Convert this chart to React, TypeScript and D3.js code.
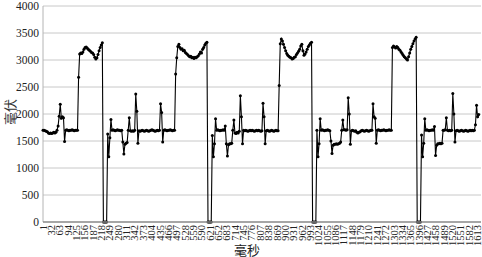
import React from "react";
import * as d3 from "d3";

// x tick labels (ms), y ticks (mV)
const xTickLabels = [
  1, 32, 63, 94, 125, 156, 187, 218, 249, 280, 311, 342, 373, 404, 435, 466, 497, 528, 559, 590,
  621, 652, 683, 714, 745, 776, 807, 838, 869, 900, 931, 962, 993, 1024, 1055, 1086, 1117, 1148,
  1179, 1210, 1241, 1272, 1303, 1334, 1365, 1396, 1427, 1458, 1489, 1520, 1551, 1582, 1613,
];
const yTicks = [0, 500, 1000, 1500, 2000, 2500, 3000, 3500, 4000];

// readings, one every SAMPLE_STEP ms, starting at ms 1
const SAMPLE_STEP = 4;
const TOTAL_MS = 1620;

const cycle1 = [
  1700, 1700, 1690, 1680, 1670, 1650, 1640, 1650, 1640, 1650, 1660, 1650, 1660, 1700,
  1780, 1960, 2180, 1920, 1950, 1930, 1490,
  1700, 1710, 1700, 1690, 1700, 1700, 1710, 1700, 1690, 1700, 1700, 1700,
  2680, 3110, 3130, 3120, 3150, 3200, 3230, 3240, 3220, 3200, 3180, 3160, 3140, 3130, 3100,
  3050, 3020, 3040, 3100, 3170, 3230, 3280, 3320,
  0, 0, 0, 0,
];
const cycle2 = [
  1630, 1210, 1560, 1900,
  1700, 1710, 1700, 1690, 1700, 1710, 1700, 1700, 1690, 1700,
  1480, 1260, 1440, 1460, 1470,
  1700, 1930,
  1690, 1680, 1690, 1680, 1700,
  2370, 2050, 1460,
  1690, 1680, 1690, 1700, 1690, 1680, 1690, 1700, 1690, 1680, 1690, 1700, 1710, 1700, 1690,
  1680, 1690, 1700, 1690, 1700,
  2190, 2030, 1480,
  1700, 1710, 1700, 1690, 1700, 1700, 1710, 1700, 1690, 1700, 1700,
  2740, 3040, 3250, 3290, 3230, 3200, 3210, 3170, 3180, 3140, 3120, 3100, 3080, 3060, 3070,
  3040, 3050, 3030, 3050, 3040, 3060, 3080, 3110, 3150, 3130, 3200, 3230, 3280, 3310, 3330,
  0, 0, 0, 0,
];
const cycle3 = [
  1600, 1210, 1450, 1910,
  1700, 1710, 1700, 1690, 1700, 1700, 1710, 1700,
  1780, 1450, 1220, 1430, 1450, 1450, 1460,
  1700, 1890,
  1650, 1640, 1660, 1650, 1680,
  2340, 1950, 1450,
  1700, 1690, 1700, 1690, 1680, 1690, 1700, 1690, 1700, 1690, 1680, 1690, 1700, 1690, 1700,
  1690, 1680, 1690,
  2200, 1950, 1450,
  1690, 1700, 1690, 1680, 1690, 1700, 1690, 1680, 1690, 1700, 1690, 1690,
  2530, 3300, 3390, 3350, 3290, 3230, 3170, 3120, 3090, 3070, 3050, 3040, 3020, 3030, 3050,
  3060, 3100, 3130, 3160, 3200, 3260, 3290, 3170, 3090, 3110, 3150, 3200, 3250, 3280, 3310,
  3330,
  0, 0, 0, 0,
];
const cycle4 = [
  1700, 1210, 1450, 1910,
  1700, 1710, 1700, 1690, 1700, 1700, 1710, 1700, 1690,
  1500, 1270, 1420, 1440, 1440, 1450, 1440, 1450, 1460, 1480,
  1700, 1890,
  1710, 1710, 1700, 1710,
  2300, 2000, 1440,
  1690, 1700, 1690, 1680, 1690, 1660, 1650, 1660, 1670, 1690, 1700, 1690, 1680, 1690, 1700,
  1690, 1680, 1690, 1700, 1700,
  2190, 1950, 1920, 1460,
  1700, 1710, 1700, 1690, 1700, 1700, 1710, 1700, 1690, 1700, 1700, 1710, 1700, 1700,
  3230, 3260, 3240, 3220, 3250, 3230, 3200, 3180, 3150, 3120, 3090, 3060, 3040, 3020, 3000,
  3060, 3130, 3200, 3250, 3300, 3350, 3390, 3420,
  0, 0, 0, 0,
];
const cycle5 = [
  1610, 1210, 1460, 1910,
  1700, 1710, 1700, 1690, 1700, 1700, 1710, 1700,
  1770, 1230, 1420, 1450, 1450, 1460, 1450, 1460,
  1700, 1700, 1710, 1930,
  1700, 1690, 1700, 1690, 1700,
  2380, 2000, 1480,
  1690, 1700, 1690, 1680, 1690, 1700, 1690, 1680, 1690, 1700, 1690, 1680, 1690, 1700, 1690,
  1700, 1690, 1700, 1800,
  2160, 1950, 1990,
];

const values = [...cycle1, ...cycle2, ...cycle3, ...cycle4, ...cycle5];

const W = 482;
const H = 257;
const M = { left: 43, right: 479.5, gridRight: 481, top: 6, bottom: 222 };
const SERIF = "'Liberation Serif', 'Times New Roman', 'DejaVu Serif', serif";
const CJK = "'Noto Sans CJK SC', sans-serif";

export default function App() {
  const x = d3.scaleLinear().domain([1, TOTAL_MS]).range([M.left, M.right]);
  const y = d3.scaleLinear().domain([0, 4000]).range([M.bottom, M.top]);
  const pts: [number, number][] = values.map((v, k) => [1 + k * SAMPLE_STEP, v]);
  const line = d3
    .line<[number, number]>()
    .x((d) => x(d[0]))
    .y((d) => y(d[1]));

  return (
    <svg
      width={W}
      height={H}
      style={{ position: "absolute", left: 0, top: 0, background: "#fff" }}
    >
      {/* gridlines */}
      {yTicks.map((t) =>
        t === 0 ? null : (
          <line
            key={"g" + t}
            x1={M.left}
            x2={M.gridRight}
            y1={y(t)}
            y2={y(t)}
            stroke="#c8c8c8"
            strokeWidth={1}
          />
        )
      )}
      {/* y axis line */}
      <line x1={M.left} x2={M.left} y1={M.top} y2={M.bottom} stroke="#b4b4b4" strokeWidth={1} />
      {/* y tick labels */}
      {yTicks.map((t) => (
        <text
          key={"y" + t}
          x={39}
          y={y(t)}
          textAnchor="end"
          dominantBaseline="central"
          style={{ fontFamily: SERIF, fontSize: 11.5 }}
          fill="#222"
        >
          {t}
        </text>
      ))}
      {/* data line */}
      <path d={line(pts) ?? ""} fill="none" stroke="#000" strokeWidth={1.1} />
      {pts.map((d, i) => (
        <circle key={i} cx={x(d[0])} cy={y(d[1])} r={1.5} fill="#000" />
      ))}
      {/* x axis line */}
      <line x1={M.left} x2={M.gridRight} y1={M.bottom} y2={M.bottom} stroke="#888" strokeWidth={1.5} />
      {/* x tick labels */}
      {xTickLabels.map((t) => (
        <text
          key={"x" + t}
          transform={`translate(${x(t)},${M.bottom + 3}) rotate(-90)`}
          textAnchor="end"
          dominantBaseline="central"
          style={{ fontFamily: SERIF, fontSize: 10.5 }}
          fill="#222"
        >
          {t}
        </text>
      ))}
      {/* axis titles */}
      <text
        transform={`translate(9,${112}) rotate(-90)`}
        textAnchor="middle"
        dominantBaseline="central"
        style={{ fontFamily: CJK, fontSize: 13 }}
        fill="#333"
      >
        毫伏
      </text>
      <text
        x={247}
        y={249}
        textAnchor="middle"
        dominantBaseline="central"
        style={{ fontFamily: CJK, fontSize: 13 }}
        fill="#222"
      >
        毫秒
      </text>
    </svg>
  );
}
